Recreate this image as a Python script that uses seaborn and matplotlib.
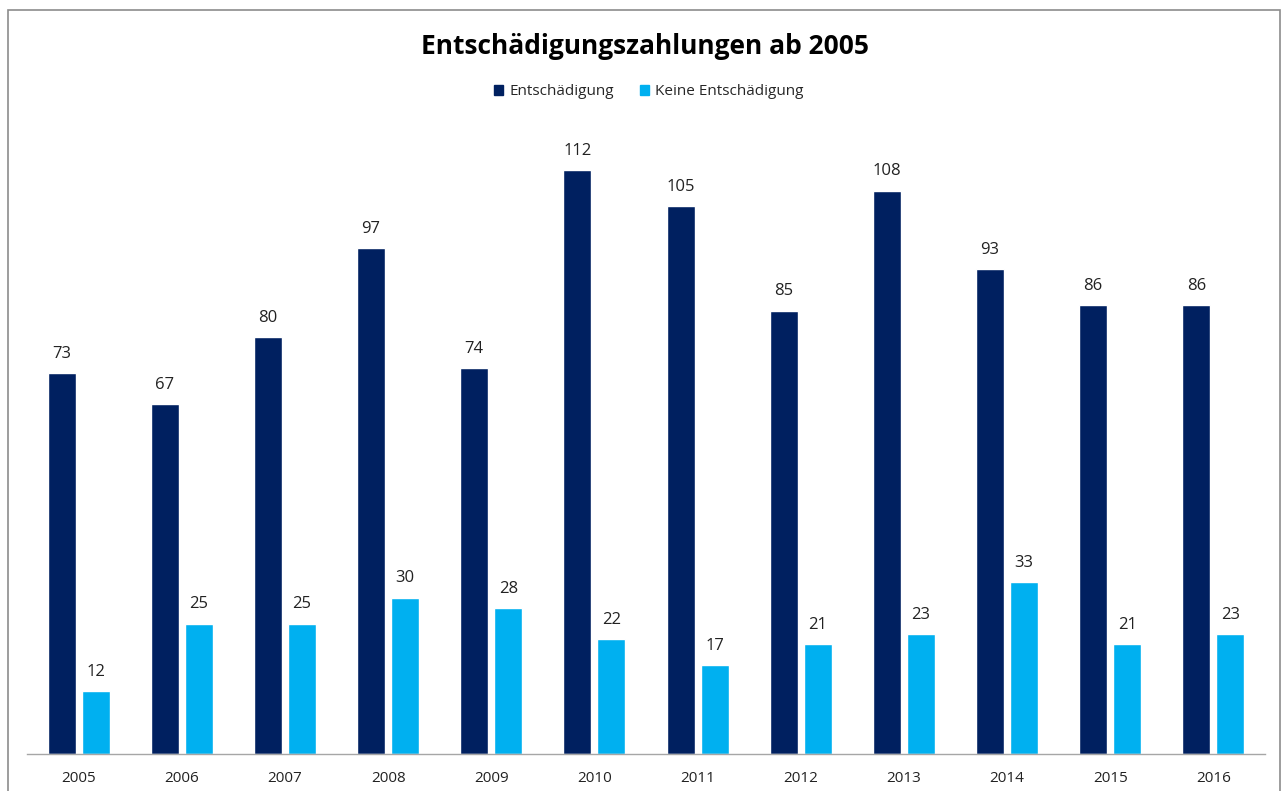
import pandas as pd
import matplotlib.pyplot as plt
import matplotlib.patches as mpatches
import seaborn as sns

years = ["2005", "2006", "2007", "2008", "2009", "2010", "2011", "2012", "2013", "2014", "2015", "2016"]
entschaedigung = [73, 67, 80, 97, 74, 112, 105, 85, 108, 93, 86, 86]
keine = [12, 25, 25, 30, 28, 22, 17, 21, 23, 33, 21, 23]

series_names = ["Entschädigung", "Keine Entschädigung"]
colors = ["#002060", "#00B0F0"]

rows = []
for i, y in enumerate(years):
    rows.append({"Jahr": y, "Typ": series_names[0], "Anzahl": entschaedigung[i]})
    rows.append({"Jahr": y, "Typ": series_names[1], "Anzahl": keine[i]})
df = pd.DataFrame(rows)

sns.set_style("white")
plt.rcParams['font.family'] = ['Open Sans', 'DejaVu Sans']

fig = plt.figure(figsize=(12.87, 7.91), dpi=100)
ax = fig.add_axes([27 / 1287, 37 / 791, 1238 / 1287, 626 / 791])

sns.barplot(data=df, x="Jahr", y="Anzahl", hue="Typ", palette=colors,
            width=0.66, gap=0.18, saturation=1, ax=ax, legend=False)

for cont in ax.containers:
    ax.bar_label(cont, padding=8, fontsize=12, color="#222222")

ax.set_ylim(0, 120)
ax.set_xlim(-0.5, len(years) - 0.5)
ax.set_xlabel("")
ax.set_ylabel("")
ax.set_yticks([])
ax.tick_params(axis="x", length=0, pad=12, labelsize=11, colors="#222222")
for s in ["top", "left", "right"]:
    ax.spines[s].set_visible(False)
ax.spines["bottom"].set_color("#A6A6A6")
ax.spines["bottom"].set_linewidth(1)

fig.text(0.501, 0.941, "Entschädigungszahlungen ab 2005", ha="center", va="center",
         fontsize=19, fontweight="bold", color="black")

handles = [mpatches.Patch(color=c, label=n) for c, n in zip(colors, series_names)]
fig.legend(handles=handles, loc="center", bbox_to_anchor=(0.504, 0.884), ncol=2,
           frameon=False, fontsize=11, handlelength=0.6, handleheight=0.6,
           handletextpad=0.4, columnspacing=1.7)

border = mpatches.Rectangle((8 / 1287, -0.02), 1272 / 1287, 1 - 10 / 791 + 0.02,
                            transform=fig.transFigure, fill=False,
                            edgecolor="#8C8C8C", linewidth=1.2)
fig.patches.append(border)

fig.savefig("out.png", dpi=100, facecolor="white")
